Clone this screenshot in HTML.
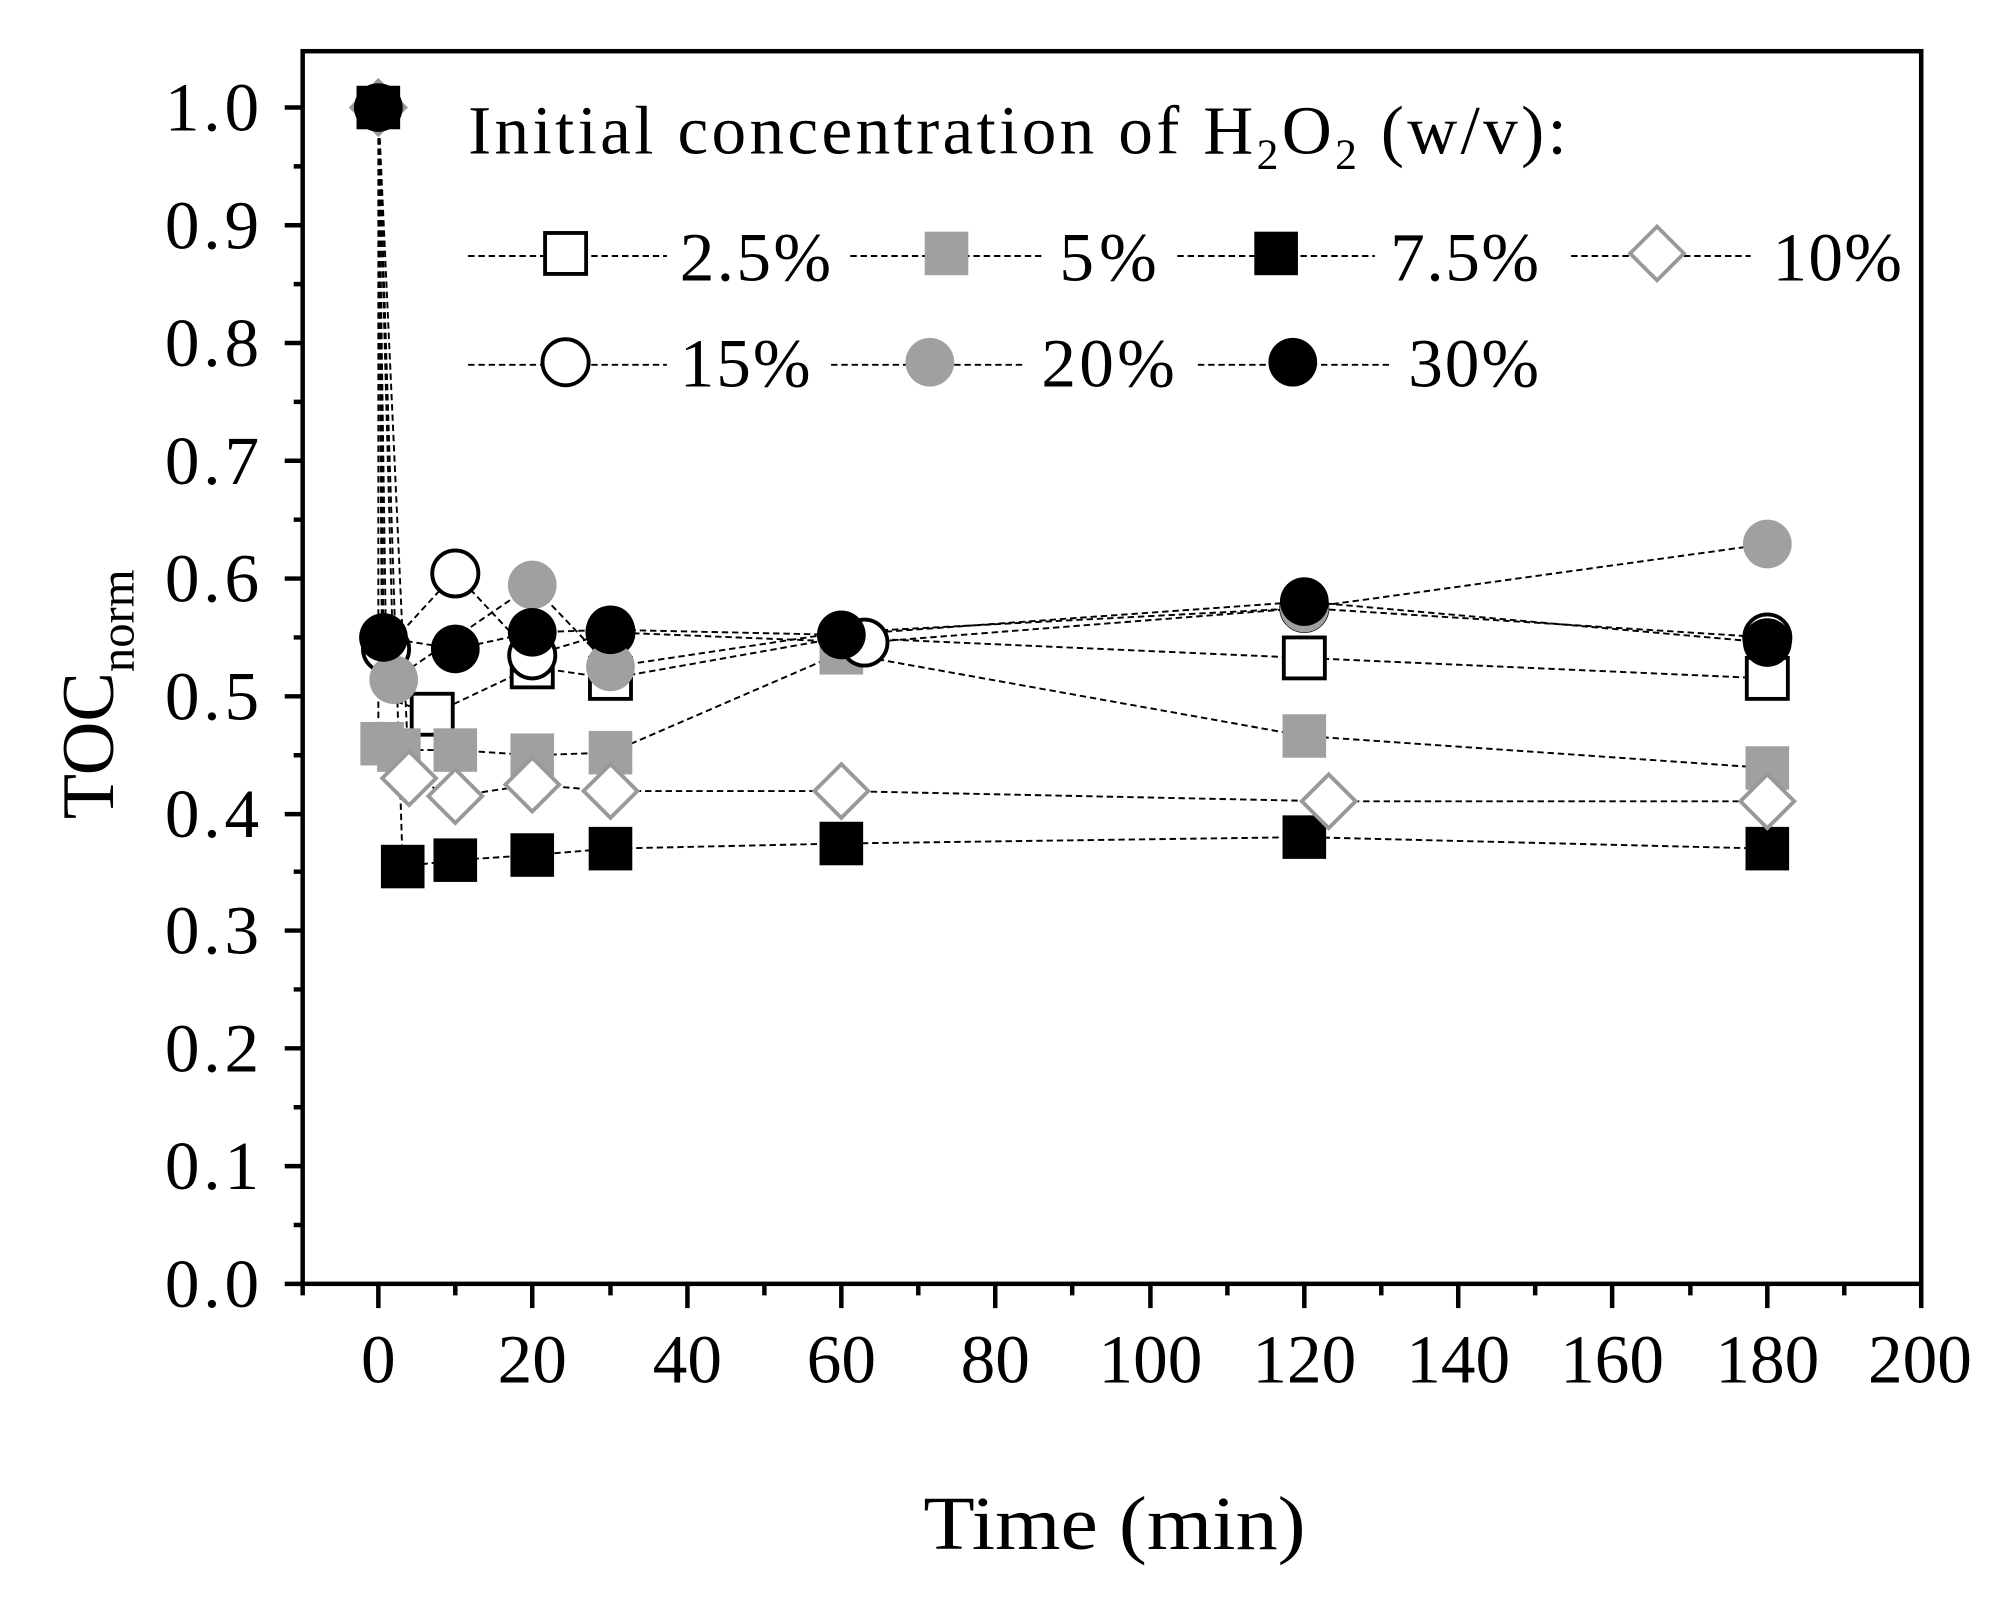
<!DOCTYPE html>
<html><head><meta charset="utf-8"><style>html,body{margin:0;padding:0;background:#fff}svg{display:block}</style></head>
<body>
<svg width="2011" height="1600" viewBox="0 0 1568 1250" preserveAspectRatio="none" xmlns="http://www.w3.org/2000/svg" font-family="'Liberation Serif',serif">
<defs>
<g id="sqO"><rect x="-16" y="-16" width="32" height="32" fill="#fff" stroke="#000" stroke-width="3"/></g>
<g id="sqG"><rect x="-17" y="-17" width="34" height="34" fill="#a0a0a0"/></g>
<g id="sqB"><rect x="-17" y="-17" width="34" height="34" fill="#000"/></g>
<g id="diO"><polygon points="0,-21 21,0 0,21 -21,0" fill="#fff" stroke="#999" stroke-width="3"/></g>
<g id="ciO"><circle r="18" fill="#fff" stroke="#000" stroke-width="3"/></g>
<g id="ciG"><circle r="19" fill="#a0a0a0"/></g>
<g id="ciB"><circle r="19" fill="#000"/></g>
</defs>
<g fill="none" stroke="#000" stroke-width="1.5" stroke-dasharray="5,3">
<polyline points="295,84 298,544 337,558 415,521 476,530 656,498 1017,514 1378,530"/>
<polyline points="295,84 295,581 311,586 355,586 415,590 476,588 656,510 1017,575 1378,600"/>
<polyline points="295,84 314,677 355,672 415,668 476,663 656,659 1017,654 1378,663"/>
<polyline points="295,84 319,608 355,622 415,613 476,618 656,618 1036,626 1378,626"/>
<polyline points="295,84 301,507 355,448 415,512 476,494 674,502 1017,475 1378,498"/>
<polyline points="295,84 307,531 415,457 476,521 656,494 1017,475 1378,425"/>
<polyline points="295,84 299,498 355,507 415,494 476,492 656,496 1017,470 1378,502"/>
</g>
<g>
<use href="#diO" x="295" y="84"/><use href="#sqB" x="295" y="84"/><use href="#ciB" x="295" y="84"/>
<use href="#sqO" x="337" y="558"/><use href="#sqO" x="415" y="521"/><use href="#sqO" x="476" y="530"/><use href="#sqO" x="1017" y="514"/><use href="#sqO" x="1378" y="530"/>
<use href="#sqG" x="298" y="581"/><use href="#sqG" x="311" y="586"/><use href="#sqG" x="355" y="586"/><use href="#sqG" x="415" y="590"/><use href="#sqG" x="476" y="588"/><use href="#sqG" x="656" y="510"/><use href="#sqG" x="1017" y="575"/><use href="#sqG" x="1378" y="600"/>
<use href="#sqB" x="314" y="677"/><use href="#sqB" x="355" y="672"/><use href="#sqB" x="415" y="668"/><use href="#sqB" x="476" y="663"/><use href="#sqB" x="656" y="659"/><use href="#sqB" x="1017" y="654"/><use href="#sqB" x="1378" y="663"/>
<use href="#diO" x="319" y="608"/><use href="#diO" x="355" y="622"/><use href="#diO" x="415" y="613"/><use href="#diO" x="476" y="618"/><use href="#diO" x="656" y="618"/><use href="#diO" x="1036" y="626"/><use href="#diO" x="1378" y="626"/>
<use href="#ciO" x="301" y="507"/><use href="#ciO" x="355" y="448"/><use href="#ciO" x="415" y="512"/><use href="#ciO" x="476" y="494"/><use href="#ciO" x="674" y="502"/><use href="#ciO" x="1017" y="475"/><use href="#ciO" x="1378" y="498"/>
<use href="#ciG" x="307" y="531"/><use href="#ciG" x="415" y="457"/><use href="#ciG" x="476" y="521"/><use href="#ciG" x="1017" y="475"/><use href="#ciG" x="1378" y="425"/>
<use href="#ciB" x="299" y="498"/><use href="#ciB" x="355" y="507"/><use href="#ciB" x="415" y="494"/><use href="#ciB" x="476" y="492"/><use href="#ciB" x="656" y="496"/><use href="#ciB" x="1017" y="470"/><use href="#ciB" x="1378" y="502"/>
</g>
<rect x="236" y="40" width="1262" height="963" fill="none" stroke="#000" stroke-width="3.5"/>
<g stroke="#000" stroke-width="3.5">
<path d="M222,84H236M222,176H236M222,268H236M222,360H236M222,452H236M222,544H236M222,636H236M222,727H236M222,819H236M222,911H236M222,1003H236"/>
<path d="M229,130H236M229,222H236M229,314H236M229,406H236M229,498H236M229,590H236M229,681H236M229,773H236M229,865H236M229,957H236"/>
<path d="M236,1003V1012M295,1003V1022M355,1003V1012M415,1003V1022M476,1003V1012M536,1003V1022M596,1003V1012M656,1003V1022M716,1003V1012M776,1003V1022M836,1003V1012M897,1003V1022M957,1003V1012M1017,1003V1022M1077,1003V1012M1137,1003V1022M1197,1003V1012M1257,1003V1022M1318,1003V1012M1378,1003V1022M1438,1003V1012M1498,1003V1022"/>
</g>
<g font-size="54" text-anchor="end" letter-spacing="3">
<text x="205" y="102">1.0</text><text x="205" y="194">0.9</text><text x="205" y="286">0.8</text><text x="205" y="378">0.7</text><text x="205" y="470">0.6</text><text x="205" y="562">0.5</text><text x="205" y="654">0.4</text><text x="205" y="745">0.3</text><text x="205" y="837">0.2</text><text x="205" y="929">0.1</text><text x="205" y="1021">0.0</text>
</g>
<g font-size="54" text-anchor="middle">
<text x="295" y="1080">0</text><text x="415" y="1080">20</text><text x="536" y="1080">40</text><text x="656" y="1080">60</text><text x="776" y="1080">80</text><text x="897" y="1080">100</text><text x="1017" y="1080">120</text><text x="1137" y="1080">140</text><text x="1257" y="1080">160</text><text x="1378" y="1080">180</text><text x="1497" y="1080">200</text>
</g>
<text x="720" y="1210" font-size="60" textLength="298" lengthAdjust="spacingAndGlyphs">Time (min)</text>
<text transform="translate(88,640) rotate(-90)" font-size="58">TOC<tspan font-size="38" dy="16">norm</tspan></text>
<text x="365" y="120" font-size="54" letter-spacing="2.6">Initial concentration of H<tspan font-size="34" dy="12">2</tspan><tspan dy="-12">O</tspan><tspan font-size="34" dy="12">2</tspan><tspan dy="-12"> (w/v):</tspan></text>
<g fill="none" stroke="#000" stroke-width="1.5" stroke-dasharray="5,3">
<path d="M365,200H520M663,200H815M918,200H1072M1225,200H1365M365,285H520M648,285H800M934,285H1085"/>
</g>
<use href="#sqO" x="441" y="198"/><use href="#sqG" x="738" y="198"/><use href="#sqB" x="995" y="198"/><use href="#diO" x="1292" y="198"/>
<use href="#ciO" x="441" y="283"/><use href="#ciG" x="725" y="283"/><use href="#ciB" x="1008" y="283"/>
<g font-size="54">
<text x="530" y="219" textLength="118">2.5%</text><text x="826" y="219" textLength="76">5%</text><text x="1084" y="219" textLength="116">7.5%</text><text x="1382" y="219" textLength="101">10%</text>
<text x="530" y="302" textLength="102">15%</text><text x="812" y="302" textLength="104">20%</text><text x="1098" y="302" textLength="102">30%</text>
</g>
</svg>
</body></html>
